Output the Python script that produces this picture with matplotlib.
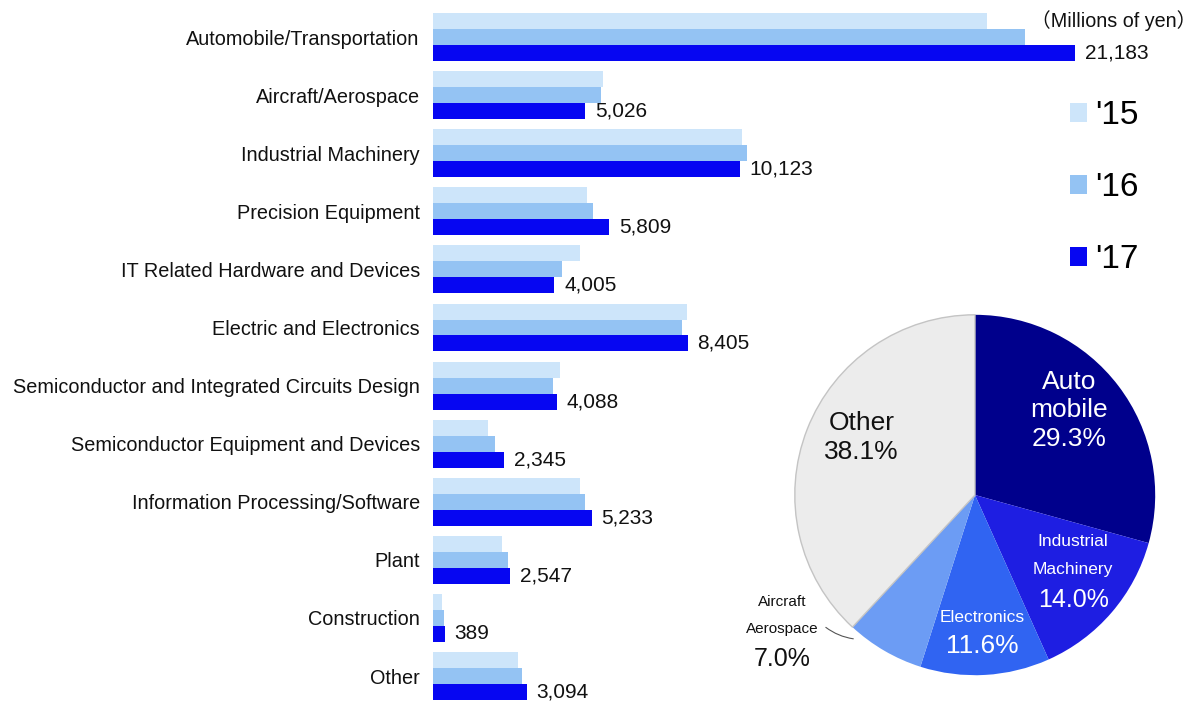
import matplotlib
matplotlib.use("Agg")
import matplotlib.pyplot as plt
from matplotlib.patches import Patch

# Sales by field (millions of yen)
categories = [
    "Automobile/Transportation",
    "Aircraft/Aerospace",
    "Industrial Machinery",
    "Precision Equipment",
    "IT Related Hardware and Devices",
    "Electric and Electronics",
    "Semiconductor and Integrated Circuits Design",
    "Semiconductor Equipment and Devices",
    "Information Processing/Software",
    "Plant",
    "Construction",
    "Other",
]
years = ["'15", "'16", "'17"]
sales_15 = [18280, 5610, 10190, 5080, 4850, 8380, 4190, 1815, 4850, 2280, 300, 2800]
sales_16 = [19530, 5540, 10360, 5280, 4260, 8220, 3960, 2045, 5015, 2475, 360, 2935]
sales_17 = [21183, 5026, 10123, 5809, 4005, 8405, 4088, 2345, 5233, 2547, 389, 3094]

# FY2017 share by field
share_labels = ["Auto\nmobile", "Industrial\nMachinery", "Electronics", "Aircraft\nAerospace", "Other"]
share_values = [29.3, 14.0, 11.6, 7.0, 38.1]

bar_colors = ["#cde5fa", "#94c3f3", "#0606f2"]
pie_colors = ["#00008c", "#1e1ee2", "#3064f2", "#6c9cf4", "#ececec"]

W, H = 1197, 702
fig = plt.figure(figsize=(W / 100, H / 100), dpi=100)
fig.patch.set_facecolor("white")

# ---- grouped horizontal bars ----
ax = fig.add_axes([433 / W, 0, (W - 433) / W, 1])
bh = 0.275
n = len(categories)
rows = list(range(n))
series = [sales_15, sales_16, sales_17]
for k, (vals, col) in enumerate(zip(series, bar_colors)):
    pos = [r + (k - 1) * bh for r in rows]
    ax.barh(pos, vals, height=bh, color=col, linewidth=0, label=years[k])

for r, v in zip(rows, sales_17):
    ax.annotate(f"{v:,}", xy=(v, r + bh), xytext=(7, 0), textcoords="offset points",
                ha="left", va="center", fontsize=15,
                family="Liberation Sans", color="#111111")

ax.set_xlim(0, 25200)
ax.set_ylim(11.446, -0.637)
ax.set_yticks(rows)
ax.set_yticklabels(categories, fontsize=14.3, family="Liberation Sans", color="#111111")
ax.tick_params(axis="y", length=0, pad=9.5)
ax.set_xticks([])
for s in ax.spines.values():
    s.set_visible(False)
ax.patch.set_alpha(0)

fig.text(1196 / W, 1 - 21 / H, "（Millions of yen）", ha="right", va="center",
         fontsize=14.2, family=["Liberation Sans", "Noto Sans CJK JP"], color="#111111")

handles = [Patch(facecolor=c, edgecolor="none") for c in bar_colors]
fig.legend(handles, years, loc="upper left", bbox_to_anchor=(1070 / W, 1 - 100 / H),
           frameon=False, handlelength=0.5, handleheight=0.5,
           handletextpad=0.25, labelspacing=1.23, borderpad=0, borderaxespad=0,
           prop={"family": "Liberation Sans", "size": 24})

# ---- share pie ----
R = 182
cx, cy = 975, 495
pax = fig.add_axes([(cx - R) / W, (H - cy - R) / H, 2 * R / W, 2 * R / H])
wedges, _ = pax.pie(share_values, colors=pie_colors, startangle=90, counterclock=False,
                    wedgeprops=dict(linewidth=0))
wedges[-1].set_edgecolor("#c4c4c4")
wedges[-1].set_linewidth(1.0)
pax.set_xlim(-1.01, 1.01)
pax.set_ylim(-1.01, 1.01)

txt = dict(ha="center", va="center", family="Liberation Sans", linespacing=1.25)
pax.text(0.52, 0.47, f"{share_labels[0]}\n{share_values[0]:.1f}%", color="white", fontsize=19, **txt)
pax.text(0.545, -0.335, share_labels[1], color="white", fontsize=12.5, ha="center", va="center",
         family="Liberation Sans", linespacing=2.05)
pax.text(0.545, -0.58, f"{share_values[1]:.1f}%", color="white", fontsize=18, **txt)
pax.text(0.04, -0.68, share_labels[2], color="white", fontsize=12.5, **txt)
pax.text(0.04, -0.84, f"{share_values[2]:.1f}%", color="white", fontsize=19, **txt)
pax.text(-0.63, 0.32, f"{share_labels[4]}\n{share_values[4]:.1f}%", color="#111111", fontsize=19, **txt)
pax.text(-1.07, -0.67, share_labels[3], color="#111111", fontsize=11, ha="center", va="center",
         family="Liberation Sans", linespacing=2.2, clip_on=False)
pax.text(-1.07, -0.91, f"{share_values[3]:.1f}%", color="#111111", fontsize=18, clip_on=False, **txt)
pax.annotate("", xy=(-0.66, -0.80), xytext=(-0.84, -0.725),
             arrowprops=dict(arrowstyle="-", color="#555555", lw=0.8,
                             connectionstyle="arc3,rad=0.15"), annotation_clip=False)

fig.savefig("out.png", dpi=100, facecolor="white")
